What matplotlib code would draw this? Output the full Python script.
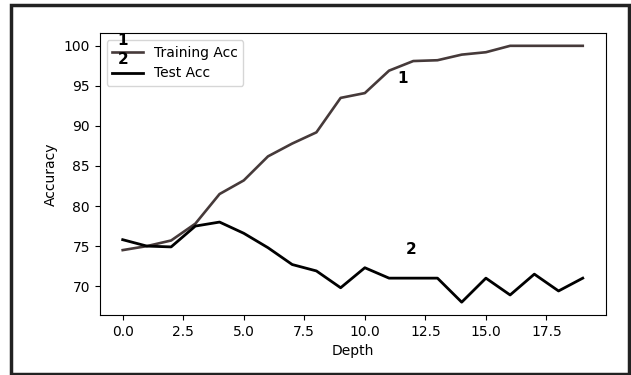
import matplotlib.pyplot as plt
from matplotlib.patches import Rectangle
import numpy as np

depth = list(range(20))
train_acc = [74.5, 75.0, 75.7, 77.8, 81.5, 83.2, 86.2, 87.8, 89.2, 93.5,
             94.1, 96.9, 98.1, 98.2, 98.9, 99.2, 100.0, 100.0, 100.0, 100.0]
test_acc = [75.8, 75.0, 74.9, 77.5, 78.0, 76.6, 74.8, 72.7, 71.9, 69.8,
            72.3, 71.0, 71.0, 71.0, 68.0, 71.0, 68.9, 71.5, 69.4, 71.0]

fig = plt.figure(figsize=(6.31, 3.75), dpi=100)
ax = fig.add_axes([0.158, 0.16, 0.802, 0.752])

ax.plot(depth, train_acc, color='#463a3a', lw=1.9, label='Training Acc')
ax.plot(depth, test_acc, color='black', lw=2.0, label='Test Acc')

ax.set_xlabel('Depth')
ax.set_ylabel('Accuracy')
ax.set_xticks(np.arange(0, 18, 2.5))

ax.text(11.55, 95.9, '1', fontsize=11, fontweight='bold', ha='center', va='center')
ax.text(11.9, 74.6, '2', fontsize=11, fontweight='bold', ha='center', va='center')

leg = ax.legend(loc='upper left', fontsize=10, handlelength=2.2)
# numbers drawn over the legend handles
ax.text(0.045, 0.972, '1', transform=ax.transAxes, fontsize=11, fontweight='bold',
        ha='center', va='center', zorder=10)
ax.text(0.047, 0.905, '2', transform=ax.transAxes, fontsize=11, fontweight='bold',
        ha='center', va='center', zorder=10)

# outer frame around the whole picture
fig.patches.append(Rectangle((11 / 631, 1 / 375), 618 / 631, 369 / 375,
                             transform=fig.transFigure, fill=False,
                             edgecolor='#222222', lw=2.5))

fig.savefig('out.png', dpi=100)
